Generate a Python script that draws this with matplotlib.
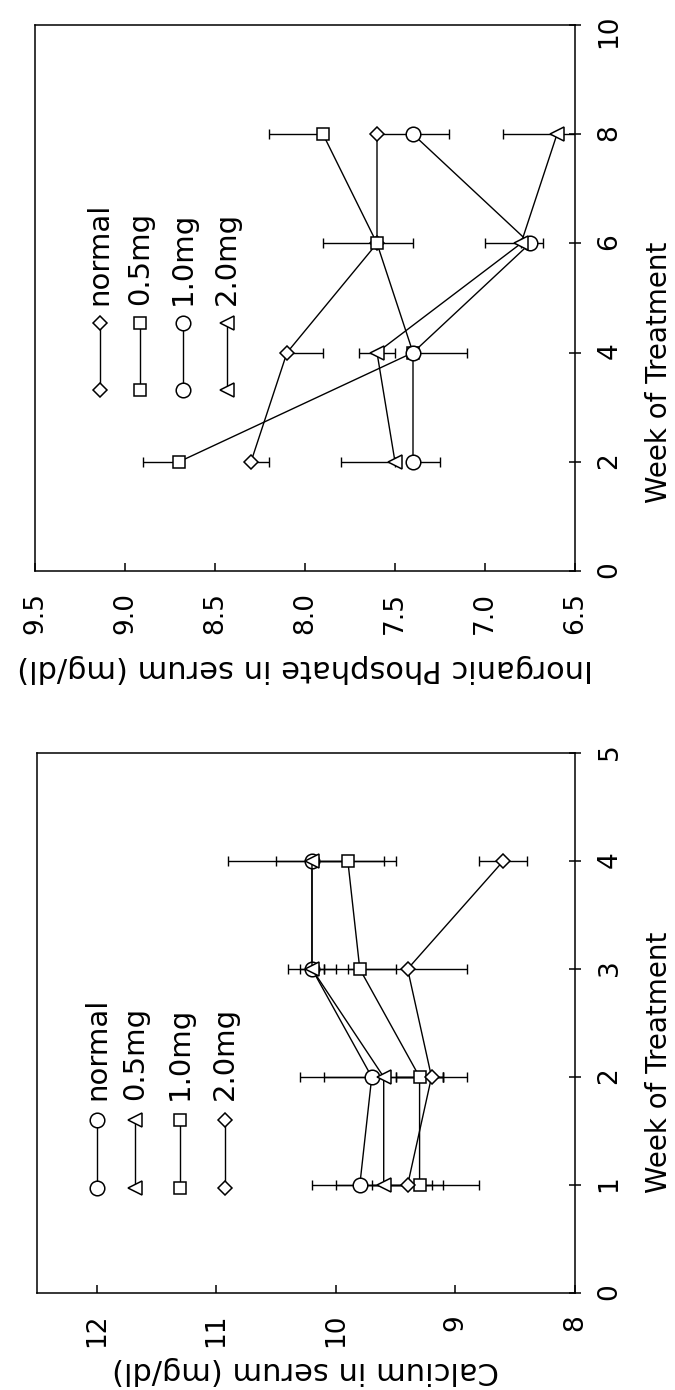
import matplotlib
matplotlib.use('Agg')
import matplotlib.pyplot as plt

# data (original chart is printed sideways: week runs upward, value runs leftward)
weeks_phos = [2, 4, 6, 8]
phos_labels = ['normal', '0.5mg', '1.0mg', '2.0mg']
phos_normal = [8.3, 8.1, 7.6, 7.6]
phos_05 = [8.7, 7.4, 7.6, 7.9]
phos_10 = [7.4, 7.4, 6.75, 7.4]
phos_20 = [7.5, 7.6, 6.8, 6.6]
# error bars: lo = toward lower values, hi = toward higher values
phos_normal_lo = [0.1, 0.2, 0.2, 0.0]
phos_normal_hi = [0.0, 0.0, 0.0, 0.0]
phos_05_lo = [0.0, 0.3, 0.0, 0.0]
phos_05_hi = [0.2, 0.0, 0.3, 0.3]
phos_10_lo = [0.15, 0.0, 0.07, 0.2]
phos_10_hi = [0.0, 0.0, 0.0, 0.2]
phos_20_lo = [0.0, 0.1, 0.0, 0.2]
phos_20_hi = [0.3, 0.1, 0.2, 0.3]
phos_ticks = [9.5, 9.0, 8.5, 8.0, 7.5, 7.0, 6.5]
phos_tick_labels = ['9.5', '9.0', '8.5', '8.0', '7.5', '7.0', '6.5']
phos_week_ticks = [0, 2, 4, 6, 8, 10]

weeks_ca = [1, 2, 3, 4]
ca_labels = ['normal', '0.5mg', '1.0mg', '2.0mg']
ca_normal = [9.8, 9.7, 10.2, 10.2]
ca_05 = [9.6, 9.6, 10.2, 10.2]
ca_10 = [9.3, 9.3, 9.8, 9.9]
ca_20 = [9.4, 9.2, 9.4, 8.6]
ca_normal_err = [0.4, 0.6, 0.2, 0.7]
ca_05_err = [0.4, 0.5, 0.1, 0.3]
ca_10_err = [0.5, 0.2, 0.3, 0.3]
ca_20_err = [0.3, 0.3, 0.5, 0.2]
ca_ticks = [12, 11, 10, 9, 8]
ca_tick_labels = ['12', '11', '10', '9', '8']
ca_week_ticks = [0, 1, 2, 3, 4, 5]

# marker styles
MS = {'o': 10.5, 's': 9.0, 'D': 7.5, '<': 10.5}


def draw_panel(ax, weeks, series, xlim, xticks, xticklabels, ylim, yticks,
               xlabel, xlabel_y, wk_label_y, leg_x, leg_y0, leg_y1, leg_ty):
    for label, mk, vals, lo, hi in series:
        ax.errorbar(vals, weeks, xerr=[lo, hi], fmt='none', ecolor='black',
                    elinewidth=1.0, capsize=3.5, capthick=1.0, zorder=2)
    for label, mk, vals, lo, hi in series:
        ax.plot(vals, weeks, color='black', lw=1.0, marker=mk, ms=MS[mk],
                mfc='white', mec='black', mew=1.1, zorder=3)

    ax.set_xlim(*xlim)
    ax.set_ylim(*ylim)
    ax.set_xticks(xticks)
    ax.set_xticklabels(xticklabels)
    ax.set_yticks(yticks)
    ax.yaxis.tick_right()
    ax.tick_params(axis='x', direction='in', length=6, width=1.1, pad=15,
                   labelsize=19, labelrotation=90, top=False)
    ax.tick_params(axis='y', direction='inout', length=9, width=1.1, pad=11,
                   labelsize=19, labelrotation=90, left=False)
    for s in ax.spines.values():
        s.set_linewidth(1.1)

    ax.set_xlabel(xlabel, fontsize=22, rotation=180, va='center')
    ax.xaxis.set_label_coords(0.5, xlabel_y)
    ax.yaxis.set_label_position('right')
    ax.set_ylabel('Week of Treatment', fontsize=20, rotation=90,
                  va='center', ha='center')
    ax.yaxis.set_label_coords(1.156, wk_label_y)

    # legend drawn by hand, rotated like the rest of the chart
    for i, (label, mk, vals, lo, hi) in enumerate(series):
        xf = leg_x[i]
        ax.plot([xf, xf], [leg_y0, leg_y1], transform=ax.transAxes,
                color='black', lw=1.0, marker=mk, ms=MS[mk],
                mfc='white', mec='black', mew=1.1, clip_on=False, zorder=3)
        ax.text(xf, leg_ty, label, transform=ax.transAxes, rotation=90,
                ha='center', va='bottom', fontsize=21)


fig = plt.figure(figsize=(6.75, 13.9), dpi=100)

ax_p = fig.add_axes([35 / 675, (1390 - 571) / 1390, 540 / 675, 546 / 1390])
phos_series = [
    (phos_labels[0], 'D', phos_normal, phos_normal_lo, phos_normal_hi),
    (phos_labels[1], 's', phos_05, phos_05_lo, phos_05_hi),
    (phos_labels[2], 'o', phos_10, phos_10_lo, phos_10_hi),
    (phos_labels[3], '<', phos_20, phos_20_lo, phos_20_hi),
]
draw_panel(ax_p, weeks_phos, phos_series, (9.5, 6.5), phos_ticks,
           phos_tick_labels, (0, 10), phos_week_ticks,
           'Inorganic Phosphate in serum (mg/dl)', -0.178, 0.364,
           [0.12, 0.194, 0.274, 0.356], 0.3315, 0.454, 0.487)

ax_c = fig.add_axes([37 / 675, (1390 - 1293) / 1390, 538 / 675, 540 / 1390])
ca_series = [
    (ca_labels[0], 'o', ca_normal, ca_normal_err, ca_normal_err),
    (ca_labels[1], '<', ca_05, ca_05_err, ca_05_err),
    (ca_labels[2], 's', ca_10, ca_10_err, ca_10_err),
    (ca_labels[3], 'D', ca_20, ca_20_err, ca_20_err),
]
draw_panel(ax_c, weeks_ca, ca_series, (12.5, 8), ca_ticks, ca_tick_labels,
           (0, 5), ca_week_ticks, 'Calcium in serum (mg/dl)', -0.144, 0.428,
           [0.112, 0.182, 0.266, 0.349], 0.194, 0.320, 0.357)

fig.savefig('out.png', dpi=100)
